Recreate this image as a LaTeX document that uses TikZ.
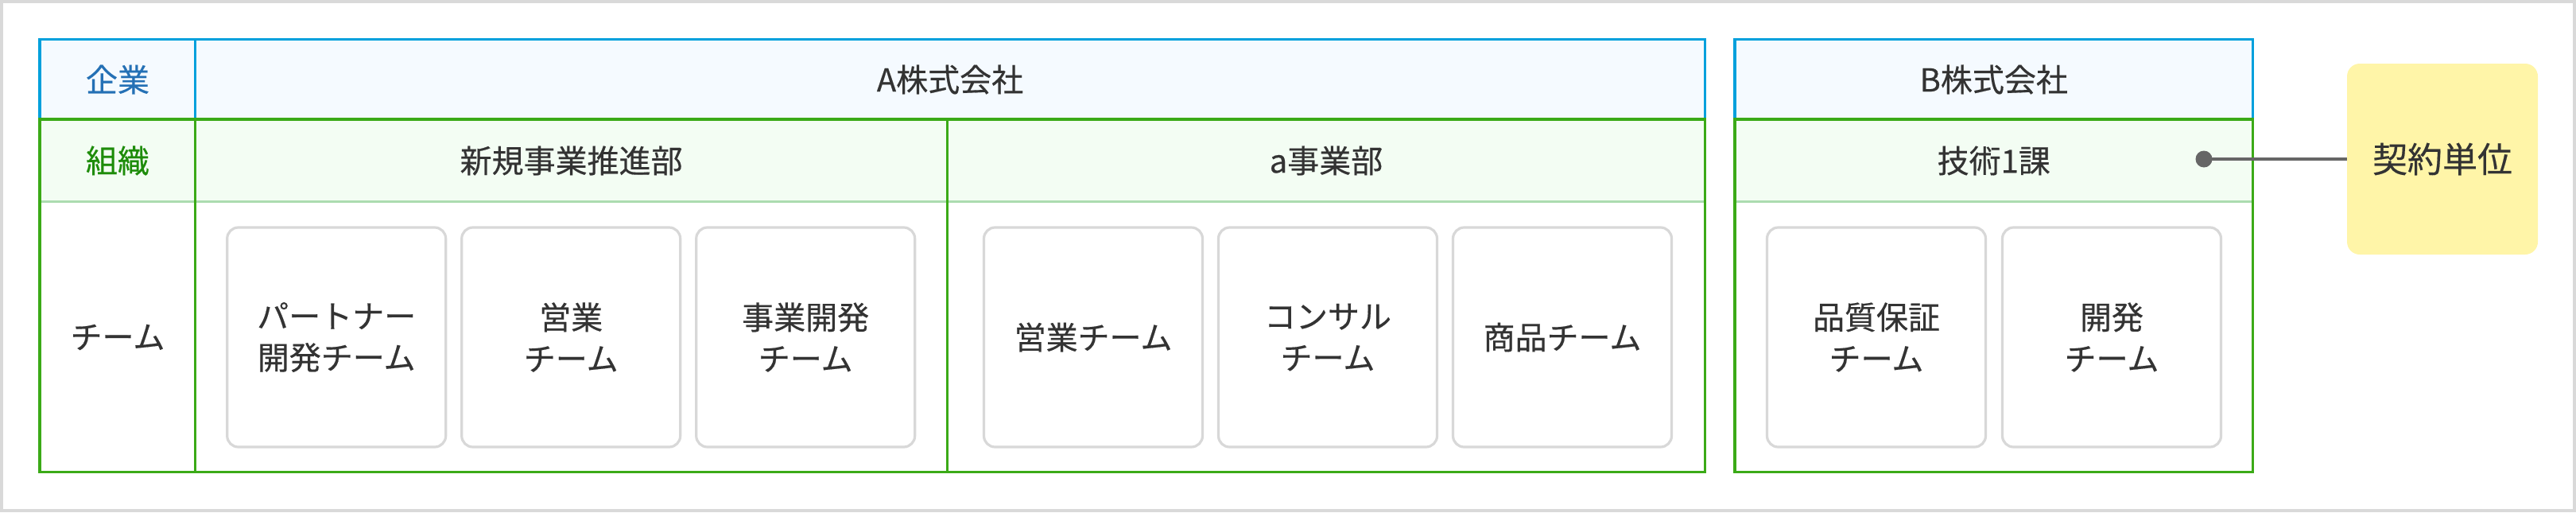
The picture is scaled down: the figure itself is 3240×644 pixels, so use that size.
\documentclass[tikz,border=0pt]{standalone}
\usepackage{fontspec}
\setmainfont{Noto Sans CJK JP}[FakeBold=0.4]
\definecolor{cBlue}{HTML}{00A0DC}
\definecolor{cBlueFill}{HTML}{F5FAFF}
\definecolor{cGreen}{HTML}{3BAA17}
\definecolor{cGreenFill}{HTML}{F3FDF3}
\definecolor{cGreenLight}{HTML}{ACDCB0}
\definecolor{cLabBlue}{HTML}{2470B5}
\definecolor{cLabGreen}{HTML}{1E8C0A}
\definecolor{cText}{HTML}{333333}
\definecolor{cBox}{HTML}{D8D8D8}
\definecolor{cFrame}{HTML}{D9D9D9}
\definecolor{cYellow}{HTML}{FFF5A8}
\definecolor{cDot}{HTML}{666666}
\begin{document}
\begin{tikzpicture}[x=0.5pt,y=-0.5pt,
  bluefr/.style={draw=cBlue,line width=1.75pt},
  greenfr/.style={draw=cGreen,line width=1.75pt},
  lightline/.style={draw=cGreenLight,line width=1.6pt},
  head/.style={font=\fontsize{20}{24}\selectfont,text=cText,inner sep=0pt},
  teambox/.style={draw=cBox,line width=1.6pt,fill=white,rounded corners=7pt,
    minimum width=137.5pt,minimum height=138pt,align=center,
    font=\fontsize{20}{26}\selectfont,text=cText,inner sep=0pt},
  unitbox/.style={fill=cYellow,rounded corners=8pt,minimum width=120pt,minimum height=120pt,
    font=\fontsize{22}{26}\selectfont,text=cText,inner sep=0pt},
  dotnode/.style={circle,fill=cDot,minimum size=10.5pt,inner sep=0pt},
  link/.style={draw=cDot,line width=1.6pt}]
\useasboundingbox (0,0) rectangle (3240,644);
\draw[cFrame,line width=2pt] (2,2) rectangle (3238,642);

% ---- Table A ----
\fill[cBlueFill] (50,49.7) rectangle (2144.5,150);
\fill[cGreenFill] (50,150) rectangle (2144.5,253.8);
\draw[lightline] (50,253.8) -- (2144.5,253.8);
\draw[bluefr] (50,49.7) rectangle (2144.5,150);
\draw[bluefr] (245.7,49.7) -- (245.7,150);
\draw[greenfr] (50,150) rectangle (2144.5,593.5);
\draw[greenfr] (245.7,150) -- (245.7,593.5);
\draw[greenfr] (1191.5,150) -- (1191.5,593.5);

% ---- Table B ----
\fill[cBlueFill] (2182,49.7) rectangle (2833.5,150);
\fill[cGreenFill] (2182,150) rectangle (2833.5,253.8);
\draw[lightline] (2182,253.8) -- (2833.5,253.8);
\draw[bluefr] (2182,49.7) rectangle (2833.5,150);
\draw[greenfr] (2182,150) rectangle (2833.5,593.5);

% labels
\node[head,text=cLabBlue] (lcorp) at (148,100) {企業};
\node[head,text=cLabGreen] (lorg) at (148,202) {組織};
\node[head] (lteam) at (148,424) {チーム};

% headers
\node[head] (hA) at (1195,100) {A株式会社};
\node[head] (hB) at (2507.75,100) {B株式会社};
\node[head] (hNew) at (718.6,202) {新規事業推進部};
\node[head] (hBiz) at (1668,202) {a事業部};
\node[head] (hTech) at (2507.75,202) {技術1課};

% team boxes
\node[teambox] (t1) at (423.2,424) {パートナー\\開発チーム};
\node[teambox] (t2) at (718.2,424) {営業\\チーム};
\node[teambox] (t3) at (1013.2,424) {事業開発\\チーム};
\node[teambox] (t4) at (1375,424) {営業チーム};
\node[teambox] (t5) at (1670,424) {コンサル\\チーム};
\node[teambox] (t6) at (1965,424) {商品チーム};
\node[teambox] (t7) at (2360,424) {品質保証\\チーム};
\node[teambox] (t8) at (2656,424) {開発\\チーム};

% contract unit
\node[unitbox] (unit) at (3072,200) {契約単位};
\node[dotnode] (dot) at (2772,200) {};
\draw[link] (dot.center) -- (unit.west);
\end{tikzpicture}
\end{document}
